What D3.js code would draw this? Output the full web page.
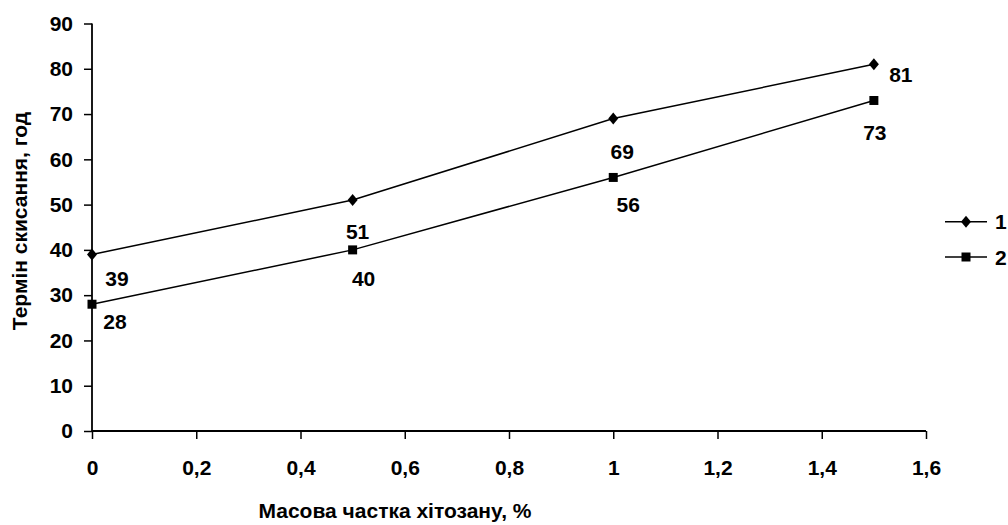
<!DOCTYPE html>
<html>
<head>
<meta charset="utf-8">
<script src="https://cdn.jsdelivr.net/npm/d3@7"></script>
<style>
  html, body { margin: 0; padding: 0; background: #fff; }
  svg text { font-family: "Liberation Sans", Arial, sans-serif; font-weight: bold; fill: #000; }
</style>
</head>
<body>
<svg id="chart" width="1008" height="525"></svg>
<script>
// Chitosan mass fraction (%) and souring time (hours) for two samples
const xValues = [0, 0.5, 1, 1.5];
const series1 = [39, 51, 69, 81];
const series2 = [28, 40, 56, 73];
const seriesNames = ["1", "2"];
const yTicks = [0, 10, 20, 30, 40, 50, 60, 70, 80, 90];
const xTicks = [0, 0.2, 0.4, 0.6, 0.8, 1, 1.2, 1.4, 1.6];
const xTitle = "Масова частка хітозану, %";
const yTitle = "Термін скисання, год";

// label placement relative to each point (dx, dy of text baseline)
const labelOffsets1 = [[25, 32], [5, 39], [9, 40], [27, 18]];
const labelOffsets2 = [[23, 25], [11, 36], [15, 35], [1, 40]];

const svg = d3.select("#chart");
const plot = { left: 92, right: 926, top: 23.5, bottom: 431 };
const fontSize = 21;

const x = d3.scaleLinear().domain([0, 1.6]).range([plot.left, plot.right]);
const y = d3.scaleLinear().domain([0, 90]).range([plot.bottom, plot.top]);

const fmt = d => d3.format("~g")(d).replace(".", ",");

// Y axis
const yAxis = svg.append("g")
  .attr("transform", `translate(${plot.left},0)`)
  .call(d3.axisLeft(y).tickValues(yTicks).tickSize(8).tickPadding(11).tickFormat(fmt));
// X axis
const xAxis = svg.append("g")
  .attr("transform", `translate(0,${plot.bottom})`)
  .call(d3.axisBottom(x).tickValues(xTicks).tickSize(8).tickPadding(21).tickFormat(fmt));

[yAxis, xAxis].forEach(g => {
  g.select(".domain").attr("stroke", "#000").attr("stroke-width", 1.8);
  g.selectAll(".tick line").attr("stroke", "#000").attr("stroke-width", 1.5);
  g.selectAll(".tick text").attr("font-size", fontSize).attr("font-family", null).attr("fill", "#000");
});
xAxis.select(".domain").attr("d", `M${plot.left},0H${plot.right}`);
yAxis.select(".domain").attr("d", `M0,${plot.bottom}V${plot.top}`);

// Axis titles
svg.append("text")
  .attr("x", 395).attr("y", 518)
  .attr("text-anchor", "middle")
  .attr("font-size", fontSize)
  .text(xTitle);

svg.append("text")
  .attr("transform", "translate(27,221) rotate(-90)")
  .attr("text-anchor", "middle")
  .attr("font-size", fontSize)
  .text(yTitle);

// Lines
const line = d3.line().x((d, i) => x(xValues[i])).y(d => y(d));
const diamond = (cx, cy) => `M${cx},${cy - 6}L${cx + 5},${cy}L${cx},${cy + 6}L${cx - 5},${cy}Z`;
const square = (cx, cy) => `M${cx - 4.5},${cy - 4.5}h9v9h-9Z`;

const allSeries = [
  { values: series1, marker: diamond, offsets: labelOffsets1 },
  { values: series2, marker: square, offsets: labelOffsets2 }
];

allSeries.forEach(s => {
  svg.append("path")
    .attr("d", line(s.values))
    .attr("fill", "none")
    .attr("stroke", "#000")
    .attr("stroke-width", 1.5);

  svg.append("g").selectAll("path")
    .data(s.values)
    .join("path")
    .attr("d", (d, i) => s.marker(x(xValues[i]), y(d)))
    .attr("fill", "#000");

  svg.append("g").selectAll("text")
    .data(s.values)
    .join("text")
    .attr("x", (d, i) => x(xValues[i]) + s.offsets[i][0])
    .attr("y", (d, i) => y(d) + s.offsets[i][1])
    .attr("text-anchor", "middle")
    .attr("font-size", fontSize)
    .text(d => d);
});

// Legend
const legendY = [221.7, 257];
allSeries.forEach((s, i) => {
  const g = svg.append("g");
  g.append("line")
    .attr("x1", 945).attr("x2", 987)
    .attr("y1", legendY[i]).attr("y2", legendY[i])
    .attr("stroke", "#000").attr("stroke-width", 1.5);
  g.append("path").attr("d", s.marker(966, legendY[i])).attr("fill", "#000");
  g.append("text")
    .attr("x", 995).attr("y", legendY[i] + 7.5)
    .attr("font-size", fontSize)
    .text(seriesNames[i]);
});
</script>
</body>
</html>
